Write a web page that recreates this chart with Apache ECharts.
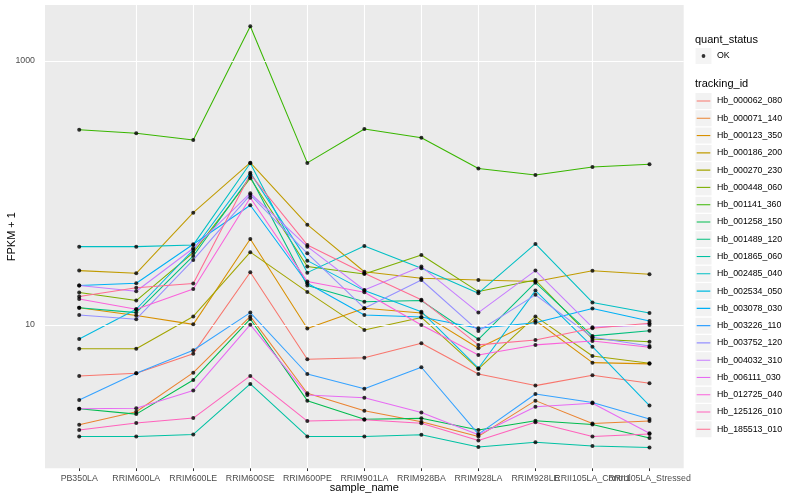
<!DOCTYPE html>
<html><head><meta charset="utf-8">
<script src="https://cdn.jsdelivr.net/npm/echarts@6/dist/echarts.min.js"></script>
<style>html,body{margin:0;padding:0;background:#fff}#c{width:800px;height:500px}</style>
</head><body><div id="c"></div>
<script>
const categories = ['PB350LA','RRIM600LA','RRIM600LE','RRIM600SE','RRIM600PE','RRIM901LA','RRIM928BA','RRIM928LA','RRIM928LE','RRII105LA_Control','RRII105LA_Stressed'];
const trackingIds = ['Hb_000062_080','Hb_000071_140','Hb_000123_350','Hb_000186_200','Hb_000270_230','Hb_000448_060','Hb_001141_360','Hb_001258_150','Hb_001489_120','Hb_001865_060','Hb_002485_040','Hb_002534_050','Hb_003078_030','Hb_003226_110','Hb_003752_120','Hb_004032_310','Hb_006111_030','Hb_012725_040','Hb_125126_010','Hb_185513_010'];
const yTickLabels = [10, 1000];

// FPKM + 1 per sample
const Hb_000062_080 = [4.11, 4.31, 6.06, 25.1, 5.50, 5.65, 7.27, 4.25, 3.47, 4.16, 3.62];
const Hb_000071_140 = [1.75, 2.20, 4.35, 11.6, 3.04, 2.24, 1.85, 1.43, 2.67, 1.79, 1.87];
const Hb_000123_350 = [13.5, 11.8, 10.1, 44.8, 9.41, 13.4, 12.3, 6.66, 10.8, 5.18, 5.07];
const Hb_000186_200 = [25.8, 24.6, 70.9, 169.6, 57.5, 25.3, 22.6, 21.9, 21.3, 25.7, 24.2];
const Hb_000270_230 = [6.61, 6.61, 11.6, 35.6, 17.8, 9.17, 11.4, 4.64, 11.6, 5.82, 5.13];
const Hb_000448_060 = [17.6, 15.3, 35.3, 129.2, 27.7, 24.3, 33.9, 17.9, 21.9, 7.83, 7.47];
const Hb_001141_360 = [301, 283, 252, 1834, 169, 305, 262, 153, 137, 157, 165];
const Hb_001258_150 = [2.32, 2.11, 3.83, 11.1, 2.67, 1.93, 1.96, 1.60, 1.88, 1.76, 1.39];
const Hb_001489_120 = [13.5, 12.4, 33.3, 132.9, 19.9, 15.0, 15.3, 7.79, 20.9, 8.26, 9.05];
const Hb_001865_060 = [1.43, 1.43, 1.48, 3.57, 1.43, 1.43, 1.47, 1.19, 1.29, 1.21, 1.18];
const Hb_002485_040 = [39.2, 39.2, 40.4, 168, 24.9, 39.7, 26.9, 17.4, 41.1, 14.8, 12.3];
const Hb_002534_050 = [7.83, 13.15, 37.0, 142.5, 30.7, 18.2, 12.6, 4.70, 18.2, 6.85, 2.45];
const Hb_003078_030 = [19.9, 20.7, 40.9, 80.7, 20.7, 11.9, 11.5, 9.44, 10.4, 13.3, 10.7];
const Hb_003226_110 = [2.70, 4.31, 6.43, 12.4, 4.25, 3.29, 4.78, 1.49, 3.00, 2.58, 1.94];
const Hb_003752_120 = [11.9, 11.05, 31.1, 96.6, 34.9, 13.4, 21.9, 9.0, 16.9, 8.07, 6.93];
const Hb_004032_310 = [19.9, 18.0, 38.1, 99.5, 39.2, 18.4, 27.7, 12.4, 25.8, 9.6, 10.0];
const Hb_006111_030 = [2.32, 2.34, 3.18, 10.05, 2.95, 2.81, 2.17, 1.47, 2.40, 2.55, 1.51];
const Hb_012725_040 = [15.7, 13.15, 18.7, 92.1, 21.3, 17.7, 10.0, 5.92, 7.06, 7.56, 6.78];
const Hb_125126_010 = [1.60, 1.81, 1.97, 4.11, 1.87, 1.91, 1.80, 1.33, 1.83, 1.43, 1.49];
const Hb_185513_010 = [16.4, 19.1, 20.6, 138.6, 40.4, 24.6, 15.5, 7.06, 7.7, 9.44, 10.3];

const seriesValues = [Hb_000062_080, Hb_000071_140, Hb_000123_350, Hb_000186_200, Hb_000270_230, Hb_000448_060, Hb_001141_360, Hb_001258_150, Hb_001489_120, Hb_001865_060, Hb_002485_040, Hb_002534_050, Hb_003078_030, Hb_003226_110, Hb_003752_120, Hb_004032_310, Hb_006111_030, Hb_012725_040, Hb_125126_010, Hb_185513_010];

const palette = ['#F8766D','#EA8331','#D89000','#C09B00','#A3A500','#7CAE00','#39B600','#00BB4E','#00BF7D','#00C1A3','#00BFC4','#00BAE0','#00B0F6','#35A2FF','#9590FF','#C77CFF','#E76BF3','#FA62DB','#FF62BC','#FF6C91'];

const FONT = '"Liberation Sans", Arial, sans-serif';
function svgIcon(inner) {
  const svg = '<svg xmlns="http://www.w3.org/2000/svg" width="17" height="17"><rect x="0.5" y="0.5" width="16" height="16" fill="#F2F2F2"/>' + inner + '</svg>';
  return 'image://data:image/svg+xml;charset=utf-8,' + encodeURIComponent(svg);
}
function lineKey(c) { return svgIcon('<line x1="1.7" y1="8.5" x2="15.3" y2="8.5" stroke="' + c + '" stroke-width="1.1"/>'); }
const okKey = svgIcon('<circle cx="8.5" cy="8.5" r="1.9" fill="#000"/>');

const idx = categories.map((_, i) => i);
const evenIdx = idx.filter(i => i % 2 === 0);
const oddIdx = idx.filter(i => i % 2 === 1);
const isTick = (v, t) => Math.abs(v - t) < 1e-6 * t;
const catLabel = parity => v => { const r = Math.round(v); return Math.abs(v - r) < 1e-6 && r % 2 === parity && categories[r] ? categories[r] : ''; };

const lineSeries = trackingIds.map((name, k) => ({
  name: name, type: 'line', z: 2,
  data: seriesValues[k].map((v, i) => [i, v]),
  showSymbol: false, symbol: 'none',
  color: palette[k],
  lineStyle: { color: palette[k], width: 1.05 },
  emphasis: { disabled: true }
}));
const points = [];
seriesValues.forEach(arr => arr.forEach((v, i) => points.push([i, v])));

const xLabelStyle = { margin: 5.5, fontSize: 8.8, color: '#4D4D4D', fontFamily: FONT, hideOverlap: false,
  showMinLabel: true, showMaxLabel: true, align: 'center', verticalAlign: 'top' };

const option = {
  animation: false,
  backgroundColor: '#fff',
  textStyle: { fontFamily: FONT },
  title: [
    { text: 'quant_status', left: 695, top: 34, padding: 0, textStyle: { fontSize: 11, fontWeight: 'normal', color: '#000', fontFamily: FONT } },
    { text: 'tracking_id', left: 695, top: 78, padding: 0, textStyle: { fontSize: 11, fontWeight: 'normal', color: '#000', fontFamily: FONT } }
  ],
  legend: [
    { data: [{ name: 'OK', icon: okKey }], orient: 'vertical', left: 695, top: 47.5, padding: 0,
      itemWidth: 17, itemHeight: 17, selectedMode: false,
      textStyle: { fontSize: 8.8, color: '#000', fontFamily: FONT } },
    { data: trackingIds.map((n, k) => ({ name: n, icon: lineKey(palette[k]) })), orient: 'vertical',
      left: 695, top: 92.5, padding: 0, itemWidth: 17, itemHeight: 17, itemGap: 0.28, selectedMode: false,
      textStyle: { fontSize: 8.8, color: '#000', fontFamily: FONT } }
  ],
  grid: { left: 45, right: 116.3, top: 5, bottom: 31.7, show: true, backgroundColor: '#EBEBEB', borderWidth: 0,
    containLabel: false, outerBoundsMode: 'none' },
  xAxis: [{
    type: 'value', min: -0.6, max: categories.length - 0.4, splitNumber: categories.length,
    name: 'sample_name', nameLocation: 'middle', nameGap: 14, nameMoveOverlap: false,
    nameTextStyle: { fontSize: 11, color: '#000', fontFamily: FONT },
    axisLine: { show: false },
    axisTick: { show: true, length: 2.75, lineStyle: { color: '#333', width: 1 }, customValues: idx },
    axisLabel: Object.assign({ customValues: evenIdx, formatter: catLabel(0) }, xLabelStyle),
    splitLine: { show: true, showMinLine: false, showMaxLine: false, lineStyle: { color: '#fff', width: 1.1 } }
  }, {
    type: 'value', min: -0.6, max: categories.length - 0.4, splitNumber: categories.length,
    position: 'bottom', offset: 0,
    axisLine: { show: false }, axisTick: { show: false }, splitLine: { show: false },
    axisLabel: Object.assign({ customValues: oddIdx, formatter: catLabel(1) }, xLabelStyle)
  }],
  yAxis: {
    type: 'log', logBase: 10, min: 0.82, max: 2655,
    name: 'FPKM + 1', nameLocation: 'middle', nameGap: 28, nameRotate: 90, nameMoveOverlap: false,
    nameTextStyle: { fontSize: 11, color: '#000', fontFamily: FONT },
    axisLine: { show: false },
    axisTick: { show: true, length: 2.75, lineStyle: { color: '#333', width: 1 }, customValues: yTickLabels },
    axisLabel: { margin: 10, fontSize: 8.8, color: '#4D4D4D', fontFamily: FONT, customValues: yTickLabels,
      align: 'right', verticalAlign: 'middle',
      formatter: v => { const t = yTickLabels.find(t => isTick(v, t)); return t !== undefined ? String(t) : ''; } },
    splitLine: { show: true, showMinLine: false, showMaxLine: false, lineStyle: { color: '#fff', width: 0.55 } }
  },
  series: lineSeries.concat([
    { name: 'major', type: 'line', z: 1, data: [], silent: true,
      markLine: { silent: true, symbol: 'none', label: { show: false }, animation: false,
        lineStyle: { color: '#fff', width: 1.1, type: 'solid' },
        data: yTickLabels.map(t => ({ yAxis: t })) } },
    { name: 'OK', type: 'scatter', z: 5, data: points, symbol: 'circle', symbolSize: 4,
      itemStyle: { color: '#000' }, emphasis: { disabled: true } }
  ])
};
const chart = echarts.init(document.getElementById('c'));
chart.setOption(option);
</script></body></html>
